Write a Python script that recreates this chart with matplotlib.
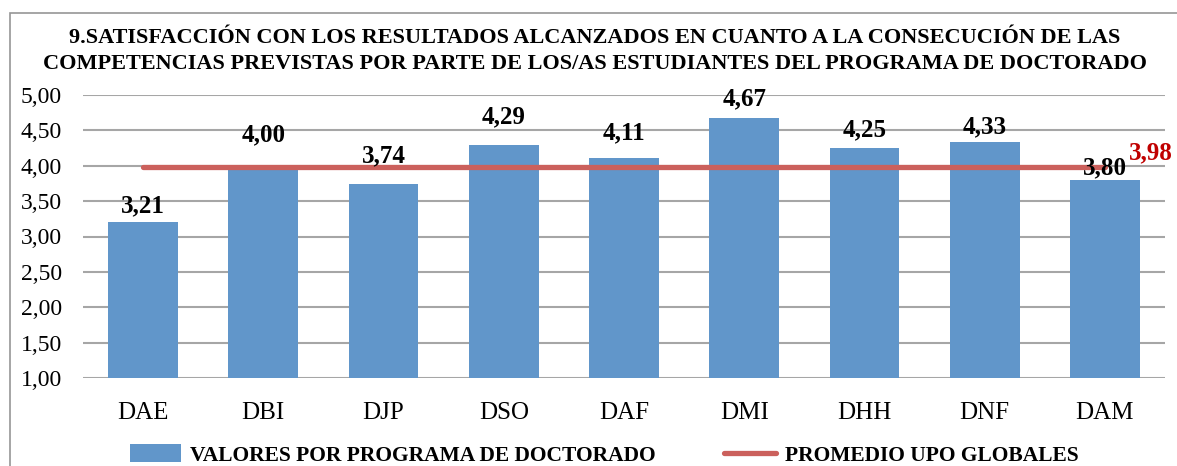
import matplotlib.pyplot as plt
import numpy as np
from matplotlib.patches import Rectangle
from matplotlib.lines import Line2D
from matplotlib.patches import Patch

# Datos
programas = ['DAE', 'DBI', 'DJP', 'DSO', 'DAF', 'DMI', 'DHH', 'DNF', 'DAM']
valores = [3.21, 4.00, 3.74, 4.29, 4.11, 4.67, 4.25, 4.33, 3.80]
promedio_upo = 3.98
y_ticks = [1.0, 1.5, 2.0, 2.5, 3.0, 3.5, 4.0, 4.5, 5.0]

titulo = ('9.SATISFACCIÓN CON LOS RESULTADOS ALCANZADOS EN CUANTO A LA CONSECUCIÓN DE LAS\n'
          'COMPETENCIAS PREVISTAS POR PARTE DE LOS/AS ESTUDIANTES DEL PROGRAMA DE DOCTORADO')

# desplazamiento vertical de las etiquetas (pixeles sobre la barra)
label_dy = [16, 31, 28, 28, 25, 20, 18, 16, 12]

FONT = 'Liberation Serif'
AZUL = '#6196CA'
ROJO = '#CB605C'

W, H = 1177, 466
fig = plt.figure(figsize=(W / 100, H / 100), dpi=100)
ax = fig.add_axes([83 / W, (H - 378) / H, (1165 - 83) / W, (378 - 95) / H])

x = np.arange(len(programas))
ax.bar(x, valores, width=0.58, color=AZUL, zorder=2)
ax.plot(x, [promedio_upo] * len(x), color=ROJO, linewidth=3.8,
        solid_capstyle='round', zorder=3)

ax.set_xlim(-0.5, len(programas) - 0.5)
ax.set_ylim(1.0, 5.0)
ax.set_yticks(y_ticks)
ax.set_yticklabels([f'{v:.2f}'.replace('.', ',') for v in y_ticks],
                   fontsize=17, family=FONT)
ax.set_xticks(x)
ax.set_xticklabels(programas, fontsize=18, family=FONT)
ax.tick_params(axis='both', length=0)
ax.tick_params(axis='x', pad=17)
ax.tick_params(axis='y', pad=15)
ax.grid(axis='y', color='#A6A6A6', linewidth=1.5, zorder=0)
for s in ax.spines.values():
    s.set_visible(False)

# Etiquetas de valores
for xi, v, dy in zip(x, valores, label_dy):
    ax.annotate(f'{v:.2f}'.replace('.', ','), xy=(xi, v), xytext=(0, dy * 0.72),
                textcoords='offset points', ha='center', va='center',
                fontsize=18, fontweight='bold', family=FONT, zorder=4)

ax.annotate(f'{promedio_upo:.2f}'.replace('.', ','), xy=(x[-1], promedio_upo),
            xytext=(17, 10), textcoords='offset points', ha='left', va='center',
            fontsize=18, fontweight='bold', family=FONT, color='#C00000',
            annotation_clip=False, zorder=4)

# Titulo
fig.text(595 / W, 1 - 51 / H, titulo, ha='center', va='center', fontsize=16,
         fontweight='bold', family=FONT, linespacing=1.35)

# Leyenda
handles = [Patch(facecolor=AZUL, edgecolor='none'),
           Line2D([0], [0], color=ROJO, linewidth=3.8, solid_capstyle='round')]
fig.legend(handles, ['VALORES POR PROGRAMA DE DOCTORADO', 'PROMEDIO UPO GLOBALES'],
           loc='center', bbox_to_anchor=(604 / W, 1 - 455 / H), ncol=2, frameon=False,
           prop={'family': FONT, 'weight': 'bold', 'size': 15.5},
           handlelength=2.4, handleheight=0.9, columnspacing=3.2, handletextpad=0.4)

# Marco exterior
fig.patches.append(Rectangle((10 / W, -0.1), 1.2, 1 - 13 / H + 0.1,
                             transform=fig.transFigure, fill=False,
                             edgecolor='#969696', linewidth=1.2))

fig.savefig('out.png', dpi=100)
